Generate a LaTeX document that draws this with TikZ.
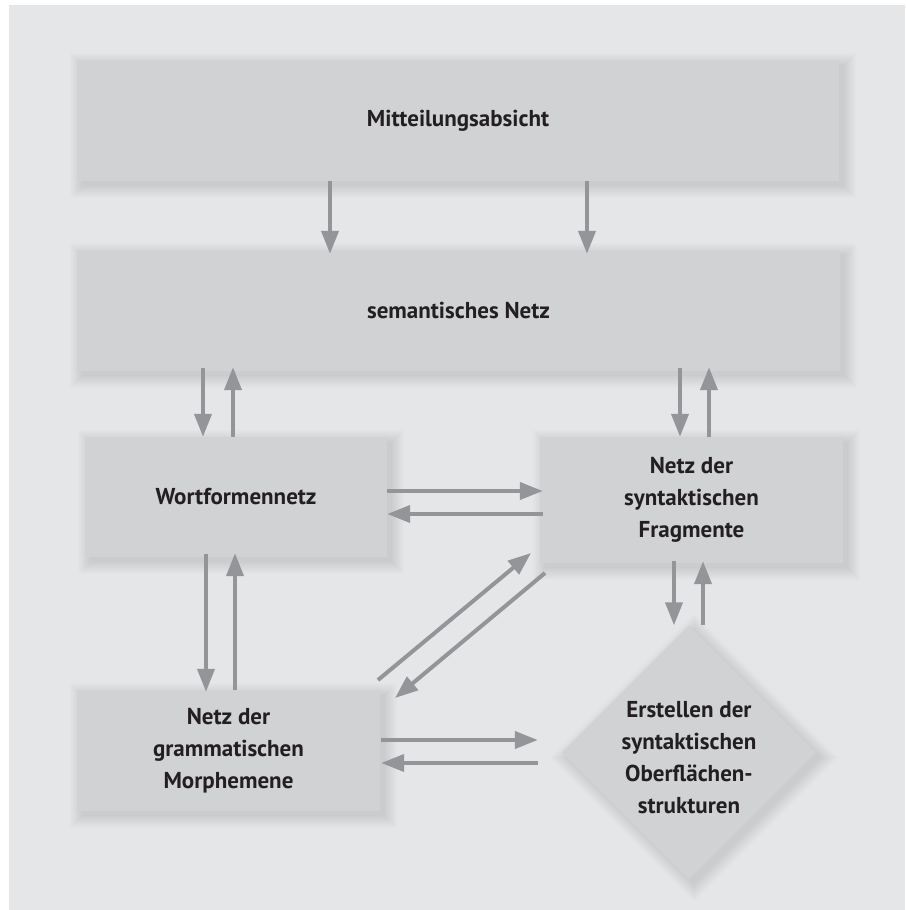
\documentclass[tikz,border=0pt]{standalone}
\usepackage{fontspec}
\setmainfont{PT Sans}
\usetikzlibrary{arrows.meta,shapes.geometric,calc}
\definecolor{panelbg}{HTML}{E5E6E8}
\definecolor{boxfill}{HTML}{D1D2D4}
\definecolor{arrowcol}{HTML}{939598}
\definecolor{txtcol}{HTML}{231F20}
\pgfdeclarelayer{bg}
\pgfsetlayers{bg,main}
\tikzset{
  box/.style={rectangle,fill=boxfill,inner sep=0pt,align=center,text=txtcol,
    font=\fontsize{23}{32}\selectfont\bfseries},
  dia/.style={diamond,fill=boxfill,inner sep=0pt,minimum width=254pt,minimum height=254pt},
  lbl/.style={align=center,text=txtcol,font=\fontsize{23}{32}\selectfont\bfseries,inner sep=0pt},
  arr/.style={draw=arrowcol,line width=4pt,-{Triangle[length=23pt,width=17pt]}},
}
\newcommand{\boxshadow}[1]{%
  \begin{pgfonlayer}{bg}
  \foreach \i in {0,...,12}{
    \fill[black,opacity=0.006] ([shift={(5-\i,5-\i)}]#1.north west) rectangle ([shift={(5+\i,5+\i)}]#1.south east);
  }
  \end{pgfonlayer}}
\begin{document}
\begin{tikzpicture}[x=1pt,y=-1pt]
\useasboundingbox (0,0) rectangle (905,910);
\begin{pgfonlayer}{bg}
\fill[panelbg] (9,5) rectangle (905,910);
\end{pgfonlayer}
% boxes
\node[box,minimum width=762pt,minimum height=121pt] (top) at (458,120.5) {Mitteilungsabsicht};
\node[box,minimum width=763pt,minimum height=121pt] (sem) at (458.5,310.5) {semantisches Netz};
\node[box,minimum width=302pt,minimum height=120pt] (wort) at (236,497) {Wortformennetz};
\node[box,minimum width=303pt,minimum height=126pt] (frag) at (691.5,500) {Netz der\\syntaktischen\\Fragmente};
\node[box,minimum width=303pt,minimum height=121pt] (morph) at (228.5,750.5) {Netz der\\grammatischen\\Morphemene};
\node[dia] (ober) at (689,752.5) {};
\node[lbl] (obertext) at (689,758) {Erstellen der\\syntaktischen\\Oberflächen-\\strukturen};
\boxshadow{top}
\boxshadow{sem}
\boxshadow{wort}
\boxshadow{frag}
\boxshadow{morph}
\begin{pgfonlayer}{bg}
\foreach \i in {0,...,12}{
  \fill[black,opacity=0.006] ([shift={(5,5-1.41*\i)}]ober.north) -- ([shift={(5+1.41*\i,5)}]ober.east) -- ([shift={(5,5+1.41*\i)}]ober.south) -- ([shift={(5-1.41*\i,5)}]ober.west) -- cycle;
}
\end{pgfonlayer}
% arrows top -> sem
\draw[arr] (330,0 |- top.south) -- ([yshift=-4pt]330,0 |- sem.north);
\draw[arr] (587,0 |- top.south) -- ([yshift=-4pt]587,0 |- sem.north);
% sem <-> wort
\draw[arr] ([yshift=3pt]203,0 |- sem.south) -- (203,0 |- wort.north);
\draw[arr] (233,0 |- wort.north) -- ([yshift=4pt]233,0 |- sem.south);
% sem <-> frag
\draw[arr] ([yshift=3pt]680,0 |- sem.south) -- (680,0 |- frag.north);
\draw[arr] (709,0 |- frag.north) -- ([yshift=4pt]709,0 |- sem.south);
% wort <-> frag
\draw[arr] (wort.east |- 0,491) -- ([xshift=3pt]frag.west |- 0,491);
\draw[arr] ([xshift=3pt]frag.west |- 0,514) -- (wort.east |- 0,514);
% wort <-> morph
\draw[arr] ([yshift=3pt]206,0 |- wort.south) -- ([yshift=-2pt]206,0 |- morph.north);
\draw[arr] (235,0 |- morph.north) -- ([yshift=4pt]235,0 |- wort.south);
% frag <-> ober
\draw[arr] ([yshift=2pt]674,0 |- frag.south) -- (674,0 |- ober.north);
\draw[arr] (703,0 |- ober.north) -- ([yshift=2pt]703,0 |- frag.south);
% diagonal morph <-> frag
\coordinate (d1s) at (378,680);
\coordinate (d1e) at (531,553);
\coordinate (d2s) at (545,573);
\coordinate (d2e) at (395,698);
\draw[arr] (d1s) -- (d1e);
\draw[arr] (d2s) -- (d2e);
% morph <-> ober
\draw[arr] ([xshift=1pt]morph.east |- 0,740) -- ([xshift=-24pt]ober.west |- 0,740);
\draw[arr] ([xshift=-24pt]ober.west |- 0,763) -- ([xshift=1pt]morph.east |- 0,763);
\end{tikzpicture}
\end{document}
